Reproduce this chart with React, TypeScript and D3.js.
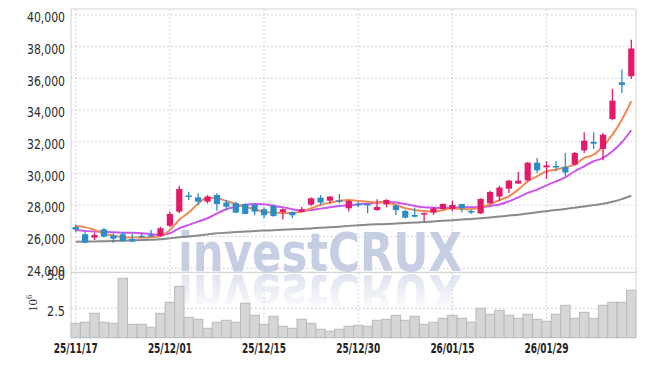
import React from "react";
import * as d3 from "d3";

const dates = [
  "25/11/17","25/11/18","25/11/19","25/11/20","25/11/21","25/11/24","25/11/25","25/11/26","25/11/27","25/11/28",
  "25/12/01","25/12/02","25/12/03","25/12/04","25/12/05","25/12/08","25/12/09","25/12/10","25/12/11","25/12/12",
  "25/12/15","25/12/16","25/12/17","25/12/18","25/12/19","25/12/22","25/12/23","25/12/24","25/12/26","25/12/29",
  "25/12/30","26/01/02","26/01/05","26/01/06","26/01/07","26/01/08","26/01/09","26/01/12","26/01/13","26/01/14",
  "26/01/15","26/01/16","26/01/19","26/01/20","26/01/21","26/01/22","26/01/23","26/01/26","26/01/27","26/01/28",
  "26/01/29","26/01/30","26/02/02","26/02/03","26/02/04","26/02/05","26/02/06","26/02/09","26/02/10","26/02/11",
];

const open = [
  26610,26150,25940,26460,26080,26150,25850,26050,26100,26040,
  26690,27580,28600,28480,28210,28630,28150,28110,28060,28000,
  27730,27940,27560,27560,27560,28020,28460,28270,28300,27790,
  28080,28060,27680,28040,27960,27620,27370,27410,27520,27750,
  27750,28060,27620,27470,28110,28530,29030,29350,29560,30670,
  30380,30460,30400,30550,31450,31980,31540,33430,35750,36130,
];
const high = [
  26760,26270,26250,26550,26210,26290,26180,26210,26420,26630,
  27580,29220,28840,28740,28630,28740,28320,28210,28110,28100,
  27850,28060,27790,27580,27890,28480,28630,28570,28690,28320,
  28200,28100,28360,28360,28000,27680,27830,27520,27850,28100,
  28270,28060,27680,28420,28900,29220,29600,30080,30720,30970,
  30760,30760,31280,31340,32590,32590,32550,35330,36550,38440,
];
const low = [
  26270,25580,25790,25940,25620,25660,25640,25950,25990,26000,
  26590,27470,28320,28000,28100,27640,27680,27470,27410,27350,
  27160,27260,27090,27160,27520,27940,28000,28100,28100,27580,
  27850,27470,27640,27850,27370,27140,27220,26970,27370,27700,
  27580,27540,27450,27430,28050,28230,28760,29350,29500,30020,
  29640,30130,29810,30500,31280,31540,30820,33350,35080,35960,
];
const close = [
  26440,25620,26100,26000,25870,25730,25700,26000,26060,26530,
  27430,29010,28550,28210,28530,28060,27890,27520,27430,27580,
  27350,27300,27730,27350,27730,28420,28150,28530,28250,28250,
  28030,28010,27870,28320,27680,27200,27260,27490,27790,28060,
  28000,27790,27520,28380,28820,29100,29540,29540,30670,30190,
  30500,30420,30060,31280,32060,31870,32440,34590,35580,37880,
];

// volume in millions (10^6)
const volume = [
  1.45,1.52,2.15,1.52,1.45,4.6,1.38,1.38,1.17,2.15,
  2.92,4.04,1.87,1.73,1.10,1.52,1.66,1.52,2.85,2.01,
  1.38,1.94,1.24,1.10,1.73,1.45,1.03,0.89,1.03,1.24,
  1.31,1.24,1.66,1.73,2.01,1.66,1.94,1.38,1.52,1.80,
  2.01,1.80,1.52,2.50,2.08,2.36,2.01,1.80,2.08,1.73,
  1.59,2.08,2.71,1.80,2.22,1.80,2.71,2.92,2.92,3.76,
];

const maShort = [
  26670,26600,26420,26200,26060,25960,25940,25940,25960,26040,
  26420,27070,27520,28080,28450,28420,28250,28060,27890,27730,
  27560,27520,27490,27490,27580,27790,28000,28150,28270,28320,
  28250,28210,28150,28150,28000,27790,27680,27620,27580,27680,
  27790,27750,27730,27850,28040,28310,28550,28970,29490,29810,
  30130,30230,30380,30550,30970,31180,31710,32440,33390,34550,
];
const maMid = [
  26420,26360,26320,26320,26270,26250,26250,26210,26170,26100,
  26210,26530,26740,26950,27160,27470,27730,27890,28000,28060,
  28040,27940,27850,27730,27640,27680,27770,27850,27940,27980,
  28030,28100,28150,28210,28150,28060,27940,27850,27830,27810,
  27830,27850,27850,27850,27940,28030,28230,28480,28760,28970,
  29240,29490,29750,30130,30440,30760,30970,31390,31960,32720,
];
const maLong = [
  25680,25690,25700,25710,25720,25740,25760,25780,25800,25830,
  25890,25960,26010,26070,26140,26210,26250,26290,26320,26350,
  26380,26410,26440,26460,26490,26520,26560,26590,26630,26680,
  26720,26750,26780,26800,26830,26860,26890,26920,26960,27000,
  27040,27080,27110,27160,27210,27270,27330,27390,27460,27540,
  27610,27680,27750,27830,27910,27990,28080,28200,28370,28580,
];

const priceTicks = [24000, 26000, 28000, 30000, 32000, 34000, 36000, 38000, 40000];
const volTicks = [2.5, 5.0];
const dateTicks = ["25/11/17", "25/12/01", "25/12/15", "25/12/30", "26/01/15", "26/01/29"];

const W = 645, H = 366;
const L = 71, R = 636, TOP = 9, SEP = 272.3, VB = 337.7;

const RED = "#e3196a";
const BLUE = "#2b8dc6";
const GRID = "#c3c7d6";
const TICKFONT = "'DejaVu Sans Condensed', 'Liberation Sans', sans-serif";

export default function App() {
  const x = d3.scaleBand<string>().domain(dates).range([L, R]).padding(0);
  const bw = x.bandwidth();
  const cx = (i: number) => (x(dates[i]) as number) + bw / 2;
  const y = d3.scaleLinear().domain([24000, 40000]).range([268.3, 15]);
  const yv = d3.scaleLinear().domain([2.5, 5.0]).range([308.3, 272.6]);

  const line = (arr: number[]) =>
    d3.line<number>().x((_, i) => cx(i)).y((v) => y(v)).curve(d3.curveMonotoneX)(arr) as string;

  const bodyW = bw * 0.66;

  return (
    <svg width={W} height={H} style={{ position: "absolute", left: 0, top: 0, background: "#fff" }}>
      <defs>
        <clipPath id="pclip"><rect x={L} y={TOP} width={R - L} height={SEP - TOP} /></clipPath>
        <linearGradient id="fade" x1="0" y1="0" x2="0" y2="1">
          <stop offset="0" stopColor="#fff" stopOpacity={0.6} />
          <stop offset="1" stopColor="#fff" stopOpacity={0} />
        </linearGradient>
        <mask id="refmask" maskUnits="userSpaceOnUse" x="0" y="272" width={W} height="45">
          <rect x="0" y="272" width={W} height="42" fill="url(#fade)" />
        </mask>
      </defs>

      {/* grid */}
      {priceTicks.map((t) => (
        <line key={"hg" + t} x1={L} x2={R} y1={y(t)} y2={y(t)} stroke={GRID} strokeDasharray="1.5 2.5" />
      ))}
      {volTicks.map((t) => (
        <line key={"vg" + t} x1={L} x2={R} y1={yv(t)} y2={yv(t)} stroke={GRID} strokeDasharray="1.5 2.5" />
      ))}
      {dateTicks.map((d) => {
        const xx = (x(d) as number) + bw / 2;
        return <line key={"xg" + d} x1={xx} x2={xx} y1={TOP} y2={VB} stroke={GRID} strokeDasharray="1.5 2.5" />;
      })}

      {/* watermark */}
      <g fontFamily="'DejaVu Sans', 'Liberation Sans', sans-serif" fontWeight="bold" fontSize={54} fill="#c6cee3">
        <text x={178} y={271} textLength={284} lengthAdjust="spacingAndGlyphs">investCRUX</text>
        <g mask="url(#refmask)">
          <text x={178} y={271} textLength={284} lengthAdjust="spacingAndGlyphs" transform="translate(0,546) scale(1,-1)">investCRUX</text>
        </g>
      </g>

      {/* volume bars */}
      {volume.map((v, i) => (
        <rect key={"v" + i} x={x(dates[i]) as number} y={yv(v)} width={bw} height={VB - yv(v)}
          fill="#d6d6d6" stroke="#b9b9b9" strokeWidth={1} />
      ))}

      {/* frame */}
      <line x1={L} x2={R} y1={TOP} y2={TOP} stroke="#d2d2d2" />
      <line x1={L} x2={L} y1={TOP} y2={VB} stroke="#d2d2d2" />
      <line x1={R} x2={R} y1={TOP} y2={VB} stroke="#d2d2d2" />
      <line x1={L} x2={R} y1={SEP} y2={SEP} stroke="#cfcfcf" />

      <g clipPath="url(#pclip)">
        {/* moving averages */}
        <path d={line(maLong)} fill="none" stroke="#8a8a8a" strokeWidth={2} />
        <path d={line(maMid)} fill="none" stroke="#cc55ee" strokeWidth={2} />
        <path d={line(maShort)} fill="none" stroke="#f08a52" strokeWidth={2} />

        {/* candles */}
        {dates.map((d, i) => {
          const up = close[i] >= open[i];
          const c = up ? RED : BLUE;
          const top = y(Math.max(open[i], close[i]));
          const bot = y(Math.min(open[i], close[i]));
          return (
            <g key={"c" + i}>
              <line x1={cx(i)} x2={cx(i)} y1={y(high[i])} y2={y(low[i])} stroke={c} strokeWidth={1.3} />
              <rect x={cx(i) - bodyW / 2} y={top} width={bodyW} height={Math.max(bot - top, 1.5)} fill={c} />
            </g>
          );
        })}
      </g>

      {/* price tick labels */}
      <g fontFamily={TICKFONT} fontSize={14.5} fill="#2a2a2a" textAnchor="end">
        {priceTicks.map((t) => (
          <text key={"pl" + t} x={65} y={y(t) + 2} dy="0.36em" textLength={38} lengthAdjust="spacingAndGlyphs">{d3.format(",")(t)}</text>
        ))}
        {volTicks.map((t) => (
          <text key={"vl" + t} x={65} y={yv(t) + 2} dy="0.36em" textLength={18} lengthAdjust="spacingAndGlyphs">{d3.format(".1f")(t)}</text>
        ))}
      </g>

      {/* volume unit */}
      <text transform="translate(37,312) rotate(-90)" fontFamily="'Liberation Serif', 'DejaVu Serif', serif" fontSize={13} fill="#333">
        10<tspan dy={-5} fontSize={9}>6</tspan>
      </text>

      {/* date labels */}
      <g fontFamily={TICKFONT} fontSize={14} fontWeight="bold" fill="#222" textAnchor="middle">
        {dateTicks.map((d) => (
          <text key={"dl" + d} x={(x(d) as number) + bw / 2} y={353} textLength={44} lengthAdjust="spacingAndGlyphs">{d}</text>
        ))}
      </g>
    </svg>
  );
}
